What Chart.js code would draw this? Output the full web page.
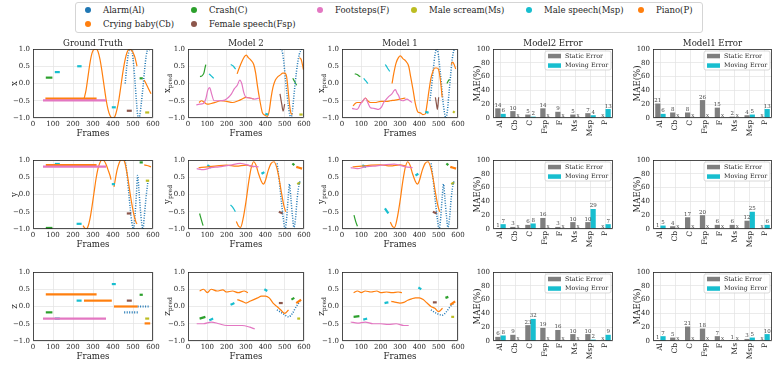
<!DOCTYPE html>
<html>
<head>
<meta charset="utf-8">
<script src="https://cdn.jsdelivr.net/npm/chart.js@4.4.1/dist/chart.umd.min.js"></script>
<style>
  html, body { margin: 0; padding: 0; background: #fff; }
  body { width: 776px; height: 369px; position: relative; overflow: hidden; font-family: "DejaVu Serif", serif; }
  canvas { position: absolute; }
  #legend { position: absolute; left: 75px; top: 2px; width: 628px; height: 31px; border: 1px solid #d5d5d5; border-radius: 3px; box-sizing: border-box; }
  .li { position: absolute; font-size: 8.5px; color: #262626; white-space: nowrap; line-height: 10px; }
  .li i { position: absolute; left: -18px; top: 2px; width: 6px; height: 6px; border-radius: 50%; }
</style>
</head>
<body>
<div id="legend"></div>
<script>
// ---------- data ----------
const CLASS_KEYS = ["Al", "Cb", "C", "Fsp", "F", "Ms", "Msp", "P"];
const CLASS_NAMES = ["Alarm(Al)", "Crying baby(Cb)", "Crash(C)", "Female speech(Fsp)", "Footsteps(F)", "Male scream(Ms)", "Male speech(Msp)", "Piano(P)"];
const CLASS_COLORS = ["#1f77b4", "#ff7f0e", "#2ca02c", "#8c564b", "#e377c2", "#bcbd22", "#17becf", "#ff7f0e"];

// trajectories: [class, [[frame, value], ...]]
const gtX = [
  ["F", [[50, -0.49], [365, -0.49]]],
  ["Cb", [[62, -0.44], [318, -0.44]]],
  ["C", [[64, 0.17], [97, 0.17]]],
  ["C", [[533, 0.15], [549, 0.15]]],
  ["Msp", [[109, 0.33], [134, 0.33]]],
  ["Msp", [[221, 0.5], [243, 0.5]]],
  ["Msp", [[394, -0.69], [414, -0.69]]],
  ["Fsp", [[469, -0.79], [494, -0.79]]],
  ["Ms", [[561, -0.84], [581, -0.84]]],
  ["P", [[255, -0.45], [265, -0.2], [275, 0.2], [285, 0.6], [295, 0.88], [305, 0.99], [315, 1.0], [325, 0.93], [335, 0.7], [345, 0.35], [355, -0.05], [365, -0.45], [375, -0.75], [385, -0.93], [395, -1.0], [402, -1.0], [410, -0.95], [420, -0.75], [430, -0.45], [440, -0.05], [450, 0.35], [460, 0.68], [470, 0.9], [480, 0.99], [490, 0.98], [500, 0.9], [510, 0.75], [520, 0.5]]],
  ["P", [[556, 0.1], [565, 0.0], [575, -0.12], [590, -0.3]]],
  ["Al", [[461, 0.0], [468, 0.45], [475, 0.8], [482, 0.97], [489, 1.0], [496, 0.9], [503, 0.55], [510, 0.05], [517, -0.5], [523, -0.9], [528, -1.0], [534, -0.92], [541, -0.6], [550, -0.1], [558, 0.4], [566, 0.8], [575, 1.0], [583, 0.95]]]
];
const gtY = [
  ["F", [[50, 0.81], [365, 0.81]]],
  ["Cb", [[64, 0.85], [318, 0.85]]],
  ["Msp", [[109, 0.885], [134, 0.885]]],
  ["Msp", [[218, -0.85], [243, -0.85]]],
  ["Msp", [[394, 0.3], [410, 0.3]]],
  ["C", [[64, -0.97], [97, -0.97]]],
  ["C", [[533, 0.93], [549, 0.93]]],
  ["Fsp", [[469, -0.55], [491, -0.55]]],
  ["Ms", [[564, 0.4], [581, 0.4]]],
  ["P", [[250, -0.9], [258, -0.97], [266, -1.0], [275, -0.93], [285, -0.7], [295, -0.35], [305, 0.05], [315, 0.45], [325, 0.75], [335, 0.93], [345, 1.0], [355, 0.98], [365, 0.88], [375, 0.72], [385, 0.55], [390, 0.43]]],
  ["P", [[405, 0.22], [412, 0.45], [420, 0.7], [430, 0.9], [440, 1.0], [450, 1.0], [458, 0.95], [466, 0.75], [475, 0.45], [485, 0.05], [495, -0.3], [505, -0.6], [515, -0.8], [520, -0.85]]],
  ["P", [[556, 0.86], [570, 0.84], [590, 0.8]]],
  ["Al", [[461, 1.0], [470, 0.6], [478, 0.1], [486, -0.4], [494, -0.8], [503, -1.0], [510, -0.6], [517, 0.0], [523, 0.55], [530, 0.1], [537, -0.45], [544, -0.85], [550, -1.0], [557, -0.6], [565, -0.1], [575, 0.4]]]
];
const gtZ = [
  ["F", [[50, -0.35], [365, -0.35]]],
  ["Cb", [[64, 0.35], [318, 0.35]]],
  ["P", [[255, 0.17], [394, 0.17]]],
  ["P", [[405, 0.0], [523, 0.0]]],
  ["P", [[558, -0.49], [586, -0.49]]],
  ["Al", [[523, 0.0], [578, 0.0]]],
  ["Al", [[456, -0.17], [528, -0.17]]],
  ["Msp", [[109, -0.35], [134, -0.35]]],
  ["Msp", [[218, 0.17], [243, 0.17]]],
  ["Msp", [[394, 0.65], [414, 0.65]]],
  ["C", [[64, -0.17], [97, -0.17]]],
  ["C", [[533, 0.34], [549, 0.34]]],
  ["Fsp", [[469, 0.17], [494, 0.17]]],
  ["Ms", [[561, -0.35], [581, -0.35]]]
];

const m2X = [
  ["C", [[62, 0.2], [72, 0.22], [82, 0.3], [88, 0.45], [92, 0.55]]],
  ["Msp", [[109, 0.28], [120, 0.22], [133, 0.15]]],
  ["Msp", [[221, 0.55], [235, 0.5], [246, 0.42]]],
  ["Msp", [[400, -0.88], [415, -0.9]]],
  ["F", [[43, -0.62], [60, -0.6], [80, -0.58], [92, -0.45], [102, -0.2], [112, -0.12], [122, -0.3], [135, -0.5], [160, -0.5], [190, -0.48], [210, -0.4], [225, -0.3], [240, -0.15], [255, -0.05], [268, 0.1], [278, 0.0], [288, -0.25], [300, -0.4], [320, -0.42], [345, -0.45], [370, -0.42]]],
  ["Cb", [[57, -0.55], [70, -0.5], [85, -0.55], [100, -0.6], [120, -0.58], [140, -0.55], [170, -0.5], [200, -0.52], [230, -0.55], [260, -0.5], [280, -0.45], [300, -0.4], [320, -0.42], [340, -0.45]]],
  ["P", [[254, 0.28], [265, 0.45], [280, 0.65], [292, 0.78], [302, 0.82], [312, 0.75], [325, 0.68], [340, 0.55], [350, 0.3], [360, -0.1], [372, -0.5], [385, -0.85], [398, -0.92], [410, -0.95], [420, -0.8], [430, -0.4], [440, -0.1], [452, 0.1], [465, 0.2], [478, 0.25], [490, 0.3], [500, 0.3], [510, 0.2], [518, -0.2], [525, -0.6], [532, -0.85], [540, -0.9]]],
  ["P", [[576, 0.75], [585, 0.7], [592, 0.55], [597, 0.4]]],
  ["Al", [[476, 1.0], [486, 0.95], [494, 0.7], [502, 0.25], [510, -0.2], [518, -0.6], [526, -0.9], [533, -1.0], [540, -0.8], [548, -0.35], [556, 0.1], [566, 0.55], [576, 0.85], [588, 1.0]]],
  ["Fsp", [[476, -0.3], [485, -0.6], [492, -0.8], [500, -0.6]]],
  ["C", [[542, 0.15], [552, 0.05], [562, -0.05]]],
  ["Ms", [[576, -0.9], [593, -0.9]]]
];
const m1X = [
  ["C", [[66, 0.28], [78, 0.26], [88, 0.22], [95, 0.2]]],
  ["Msp", [[112, 0.15], [122, 0.08], [134, 0.0]]],
  ["Msp", [[224, 0.55], [235, 0.45], [247, 0.35]]],
  ["Msp", [[431, -0.82], [448, -0.85]]],
  ["F", [[52, -0.72], [65, -0.74], [78, -0.75], [95, -0.6], [108, -0.5], [121, -0.42], [133, -0.55], [147, -0.7], [165, -0.72], [190, -0.75], [205, -0.68], [216, -0.55], [230, -0.45], [241, -0.38], [258, -0.3], [270, -0.2], [276, -0.18], [285, -0.28], [293, -0.35], [302, -0.48], [315, -0.5], [336, -0.45], [350, -0.5], [362, -0.55]]],
  ["Cb", [[57, -0.65], [68, -0.58], [78, -0.55], [100, -0.55], [121, -0.42], [133, -0.5], [147, -0.55], [170, -0.55], [200, -0.52], [230, -0.52], [250, -0.5], [275, -0.48], [302, -0.45], [328, -0.42]]],
  ["P", [[259, 0.0], [268, 0.3], [280, 0.6], [292, 0.75], [302, 0.8], [315, 0.72], [330, 0.65], [345, 0.5], [355, 0.2], [368, -0.2], [380, -0.6], [392, -0.82], [405, -0.85], [418, -0.9], [431, -0.88], [440, -0.6], [450, -0.2], [460, 0.15], [470, 0.35], [480, 0.45], [490, 0.45], [500, 0.4], [510, 0.05], [518, -0.4]]],
  ["P", [[565, 0.55], [572, 0.62], [580, 0.55], [588, 0.42]]],
  ["Al", [[455, -0.5], [463, -0.1], [472, 0.4], [480, 0.8], [490, 1.0], [498, 0.85], [506, 0.45], [514, 0.0], [522, -0.5], [530, -0.85], [537, -1.0], [545, -0.8], [553, -0.3], [562, 0.25], [570, 0.7], [578, 0.95], [586, 1.0]]],
  ["Fsp", [[483, -0.4], [490, -0.65], [493, -0.75], [496, -0.65], [500, -0.4]]],
  ["C", [[543, 0.0], [550, 0.08], [557, 0.12]]],
  ["Ms", [[575, -0.85], [582, -0.8]]]
];

const m2Y = [
  ["F", [[45, 0.75], [80, 0.72], [120, 0.78], [160, 0.8], [220, 0.85], [270, 0.9], [330, 0.82], [365, 0.8]]],
  ["Cb", [[55, 0.78], [100, 0.8], [150, 0.83], [200, 0.85], [250, 0.82], [300, 0.85], [340, 0.8]]],
  ["C", [[60, -0.55], [70, -0.75], [78, -0.9]]],
  ["Msp", [[100, 0.85], [120, 0.78]]],
  ["Msp", [[220, -0.3], [235, -0.4], [245, -0.5]]],
  ["Msp", [[380, 0.6], [395, 0.65]]],
  ["P", [[250, -0.78], [262, -0.92], [272, -0.95], [285, -0.7], [300, -0.2], [315, 0.4], [328, 0.8], [340, 0.95], [352, 0.85], [365, 0.6], [378, 0.4], [390, 0.3], [400, 0.4], [415, 0.7], [430, 0.9], [445, 0.95], [458, 0.8], [470, 0.5], [482, 0.1], [495, -0.3], [505, -0.5]]],
  ["P", [[560, 0.8], [590, 0.75]]],
  ["Al", [[461, 0.9], [472, 0.4], [483, -0.2], [493, -0.7], [502, -1.0], [510, -0.7], [518, -0.1], [525, 0.3], [532, -0.1], [540, -0.6], [548, -0.95], [556, -0.7], [565, -0.1], [575, 0.3], [582, 0.4]]],
  ["Fsp", [[470, -0.5], [490, -0.55]]],
  ["C", [[540, 0.9], [550, 0.85]]],
  ["Ms", [[565, 0.3], [580, 0.35]]]
];
const m1Y = [
  ["F", [[45, 0.78], [80, 0.75], [120, 0.8], [160, 0.82], [220, 0.86], [270, 0.88], [330, 0.8], [365, 0.78]]],
  ["Cb", [[55, 0.8], [100, 0.82], [150, 0.85], [200, 0.86], [250, 0.83], [300, 0.86], [330, 0.82]]],
  ["C", [[62, -0.6], [72, -0.8], [80, -0.92]]],
  ["Msp", [[105, 0.85], [125, 0.8]]],
  ["Msp", [[222, -0.4], [240, -0.55]]],
  ["Msp", [[380, 0.55], [395, 0.6]]],
  ["P", [[250, -0.8], [262, -0.93], [272, -0.95], [285, -0.7], [300, -0.2], [315, 0.4], [328, 0.8], [340, 0.95], [352, 0.85], [365, 0.6], [378, 0.4], [390, 0.3], [400, 0.4], [415, 0.7], [430, 0.9], [445, 0.95], [458, 0.8], [470, 0.5], [482, 0.1], [495, -0.3], [505, -0.5]]],
  ["P", [[560, 0.8], [590, 0.75]]],
  ["Al", [[461, 0.9], [472, 0.4], [483, -0.2], [493, -0.7], [502, -1.0], [510, -0.7], [518, -0.1], [525, 0.3], [532, -0.1], [540, -0.6], [548, -0.95], [556, -0.7], [565, -0.1], [575, 0.3], [582, 0.4]]],
  ["Fsp", [[470, -0.5], [490, -0.55]]],
  ["C", [[540, 0.9], [550, 0.85]]],
  ["Ms", [[565, 0.3], [580, 0.35]]]
];

const m2Z = [
  ["F", [[45, -0.5], [80, -0.5], [120, -0.45], [160, -0.5], [200, -0.55], [240, -0.55], [280, -0.55], [320, -0.6], [345, -0.65]]],
  ["Cb", [[60, 0.45], [80, 0.5], [100, 0.4], [120, 0.5], [150, 0.45], [180, 0.48], [200, 0.42], [230, 0.45], [260, 0.4], [290, 0.45], [310, 0.4]]],
  ["C", [[60, -0.35], [90, -0.3]]],
  ["Msp", [[110, -0.4], [130, -0.35]]],
  ["Msp", [[220, 0.05], [240, 0.1]]],
  ["Msp", [[395, 0.5], [410, 0.45]]],
  ["P", [[255, 0.2], [280, 0.15], [300, 0.1], [320, 0.15], [340, 0.2], [360, 0.25], [380, 0.3], [400, 0.3], [420, 0.25], [440, 0.1], [460, 0.0], [480, -0.1], [500, -0.2], [520, -0.1]]],
  ["P", [[560, 0.1], [585, 0.2]]],
  ["Al", [[460, -0.1], [490, -0.2], [520, -0.3], [540, -0.2], [560, 0.0], [580, 0.15]]],
  ["Fsp", [[470, 0.1], [490, 0.1]]],
  ["C", [[535, 0.2], [550, 0.25]]],
  ["Ms", [[565, -0.35], [580, -0.35]]]
];
const m1Z = [
  ["F", [[45, -0.45], [80, -0.48], [120, -0.45], [160, -0.5], [200, -0.5], [240, -0.52], [280, -0.5], [320, -0.55], [345, -0.55]]],
  ["Cb", [[60, 0.4], [80, 0.45], [100, 0.4], [120, 0.45], [150, 0.42], [180, 0.45], [200, 0.4], [230, 0.42], [260, 0.4], [290, 0.42], [310, 0.4]]],
  ["C", [[60, -0.3], [90, -0.28]]],
  ["Msp", [[110, -0.38], [130, -0.35]]],
  ["Msp", [[220, 0.1], [240, 0.12]]],
  ["Msp", [[395, 0.55], [410, 0.5]]],
  ["P", [[255, 0.15], [280, 0.12], [300, 0.1], [320, 0.12], [340, 0.18], [360, 0.22], [380, 0.25], [400, 0.25], [420, 0.2], [440, 0.1], [460, 0.0], [480, -0.05], [500, -0.15], [520, -0.05]]],
  ["P", [[560, 0.05], [585, 0.15]]],
  ["Al", [[460, -0.1], [490, -0.2], [520, -0.25], [540, -0.15], [560, 0.0], [580, 0.1]]],
  ["Fsp", [[470, 0.12], [490, 0.12]]],
  ["C", [[535, 0.25], [550, 0.28]]],
  ["Ms", [[565, -0.3], [580, -0.3]]]
];

// MAE (%) per class; null means "x" (not available)
const BAR_CATS = ["Al", "Cb", "C", "Fsp", "F", "Ms", "Msp", "P"];
const m2StaticX = [14, 10, 5, 14, 9, 5, 7, null];
const m2MovingX = [6, null, 2, null, null, null, 4, 13];
const m1StaticX = [21, 8, 8, 26, 15, 2, 4, null];
const m1MovingX = [6, null, null, null, null, null, 5, 13];
const m2StaticY = [1, 3, 6, 16, 3, 10, 10, null];
const m2MovingY = [7, null, 8, null, null, null, 29, 7];
const m1StaticY = [1, 4, 17, 20, 6, 6, 12, null];
const m1MovingY = [5, null, null, null, null, null, 25, 6];
const m2StaticZ = [6, 9, 23, 19, 16, 10, 10, null];
const m2MovingZ = [8, null, 32, null, null, null, 2, 9];
const m1StaticZ = [1, 5, 21, 18, 7, 1, 3, null];
const m1MovingZ = [7, null, null, null, null, null, 5, 10];

// ---------- layout ----------
const COL_L = [33, 188, 342, 493, 653];
const COL_W = [120, 116, 116, 120, 119];
const ROW_T = [49, 160, 272];
const PLOT_H = 69;
const PAD_L = 34, PAD_R = 10, PAD_T = 14, PAD_B = 21, PAD_B_BAR = 26;
const INK = "#262626";

Chart.defaults.font.family = '"DejaVu Serif", serif';
Chart.defaults.font.size = 7;
Chart.defaults.color = INK;

const colorOf = (k) => CLASS_COLORS[CLASS_KEYS.indexOf(k)];
const fmtTick = (v) => Number(v).toFixed(1).replace("-", "\u2212");

// --- legend (html) ---
const LEG_DOT_X = [88, 88, 194, 194, 320, 414, 529, 641];
const LEG_ROW_Y = [10, 24, 10, 24, 10, 10, 10, 10];
(function buildLegend() {
  CLASS_NAMES.forEach((name, i) => {
    const d = document.createElement("div");
    d.className = "li";
    d.style.left = (LEG_DOT_X[i] + 15) + "px";
    d.style.top = (LEG_ROW_Y[i] - 5) + "px";
    d.innerHTML = '<i style="background:' + CLASS_COLORS[i] + '"></i>' + name;
    document.body.appendChild(d);
  });
})();

// --- plugin: box, title, y label ---
const deco = {
  id: "deco",
  afterDraw(chart, args, o) {
    const { ctx, chartArea: a } = chart;
    ctx.save();
    ctx.strokeStyle = INK;
    ctx.lineWidth = 0.8;
    ctx.strokeRect(a.left + 0.5, a.top + 0.5, a.right - a.left - 1, a.bottom - a.top - 1);
    ctx.fillStyle = INK;
    if (o.title) {
      ctx.font = '8.6px "DejaVu Serif"';
      ctx.textAlign = "center";
      ctx.textBaseline = "alphabetic";
      ctx.fillText(o.title, (a.left + a.right) / 2, a.top - 3);
    }
    if (o.yl) {
      ctx.translate(a.left - o.yOff, (a.top + a.bottom) / 2);
      ctx.rotate(-Math.PI / 2);
      ctx.textBaseline = "middle";
      ctx.textAlign = "left";
      ctx.font = '8.6px "DejaVu Serif"';
      const w1 = ctx.measureText(o.yl).width;
      let w2 = 0;
      if (o.sub) {
        ctx.font = '6px "DejaVu Serif"';
        w2 = ctx.measureText(o.sub).width;
      }
      const x0 = -(w1 + w2) / 2;
      ctx.font = '8.6px "DejaVu Serif"';
      ctx.fillText(o.yl, x0, 0);
      if (o.sub) {
        ctx.font = '6px "DejaVu Serif"';
        ctx.fillText(o.sub, x0 + w1, 2.5);
      }
    }
    ctx.restore();
  }
};

// --- plugin: bar value labels + inner legend ---
const barText = {
  id: "barText",
  afterDatasetsDraw(chart) {
    const { ctx, chartArea: a } = chart;
    const y0 = chart.scales.y.getPixelForValue(0);
    ctx.save();
    ctx.font = '5.5px "DejaVu Serif"';
    ctx.fillStyle = "#444";
    ctx.textAlign = "center";
    ctx.textBaseline = "alphabetic";
    chart.data.datasets.forEach((ds, di) => {
      const meta = chart.getDatasetMeta(di);
      meta.data.forEach((el, i) => {
        const v = ds.data[i];
        const yy = v === null ? y0 - 1 : el.y - 1.5;
        ctx.fillText(v === null ? "x" : String(v), el.x, yy);
      });
    });
    // legend box
    const bw = 66, bh = 19;
    const bx = a.right - bw - 2, by = a.top + 2;
    ctx.fillStyle = "rgba(255,255,255,0.85)";
    ctx.strokeStyle = "#d0d0d0";
    ctx.lineWidth = 0.8;
    ctx.beginPath();
    ctx.roundRect(bx, by, bw, bh, 2);
    ctx.fill();
    ctx.stroke();
    ctx.font = '6.3px "DejaVu Serif"';
    ctx.textAlign = "left";
    ctx.textBaseline = "middle";
    chart.data.datasets.forEach((ds, di) => {
      const cy = by + 5 + di * 9.5;
      ctx.fillStyle = ds.backgroundColor;
      ctx.fillRect(bx + 3, cy - 2.2, 13, 4.5);
      ctx.fillStyle = INK;
      ctx.fillText(ds.label, bx + 20, cy + 0.3);
    });
    ctx.restore();
  }
};

function addCanvas(col, row, padB) {
  const w = COL_W[col] + PAD_L + PAD_R;
  const h = PLOT_H + PAD_T + padB;
  const c = document.createElement("canvas");
  c.width = w; c.height = h;
  c.style.width = w + "px"; c.style.height = h + "px";
  c.style.left = (COL_L[col] - PAD_L) + "px";
  c.style.top = (ROW_T[row] - PAD_T) + "px";
  document.body.appendChild(c);
  return c;
}

function linePanel(col, row, series, title, yl, sub) {
  const datasets = series.map(([k, pts]) => ({
    data: pts.map(([x, y]) => ({ x, y })),
    showLine: true,
    pointRadius: 0,
    borderColor: colorOf(k),
    borderWidth: pts.length === 2 ? 2.2 : (k === "Al" ? 1.5 : 1.2),
    borderDash: k === "Al" ? [1, 1.5] : [],
    cubicInterpolationMode: "monotone",
    fill: false
  }));
  new Chart(addCanvas(col, row, PAD_B), {
    type: "scatter",
    data: { datasets },
    options: {
      responsive: false, animation: false, devicePixelRatio: 1,
      layout: { padding: { left: 0, right: PAD_R, top: PAD_T, bottom: 0 } },
      plugins: { legend: { display: false }, tooltip: { enabled: false },
        deco: { title, yl, sub, yOff: sub ? 20 : 18 } },
      scales: {
        x: {
          type: "linear", min: 0, max: 600,
          ticks: { stepSize: 100, padding: 2, maxRotation: 0, autoSkip: false },
          grid: { color: "#e3e3e3", lineWidth: 0.7, drawTicks: false },
          border: { display: false },
          title: { display: true, text: "Frames", font: { size: 8.6 }, padding: 0 },
          afterFit: (s) => { s.height = PAD_B; }
        },
        y: {
          min: -1, max: 1,
          ticks: { stepSize: 0.5, padding: 3, callback: fmtTick },
          grid: { color: "#e3e3e3", lineWidth: 0.7, drawTicks: false },
          border: { display: false },
          afterFit: (s) => { s.width = PAD_L; }
        }
      }
    },
    plugins: [deco]
  });
}

function barPanel(col, row, stat, mov, title) {
  new Chart(addCanvas(col, row, PAD_B_BAR), {
    type: "bar",
    data: {
      labels: BAR_CATS,
      datasets: [
        { label: "Static Error", data: stat, backgroundColor: "#7f7f7f", categoryPercentage: 0.7, barPercentage: 1.0 },
        { label: "Moving Error", data: mov, backgroundColor: "#17becf", categoryPercentage: 0.7, barPercentage: 1.0 }
      ]
    },
    options: {
      responsive: false, animation: false, devicePixelRatio: 1,
      layout: { padding: { left: 0, right: PAD_R, top: PAD_T, bottom: 0 } },
      plugins: { legend: { display: false }, tooltip: { enabled: false },
        deco: { title, yl: "MAE(%)", yOff: 15 } },
      scales: {
        x: {
          ticks: { font: { size: 7.5 }, padding: 2, minRotation: 90, maxRotation: 90, autoSkip: false },
          grid: { color: "#e3e3e3", lineWidth: 0.7, drawTicks: false, offset: false },
          border: { display: false },
          afterFit: (s) => { s.height = PAD_B_BAR; }
        },
        y: {
          min: 0, max: 100,
          ticks: { stepSize: 20, padding: 3 },
          grid: { color: "#e3e3e3", lineWidth: 0.7, drawTicks: false },
          border: { display: false },
          afterFit: (s) => { s.width = PAD_L; }
        }
      }
    },
    plugins: [deco, barText]
  });
}

linePanel(0, 0, gtX, "Ground Truth", "x");
linePanel(1, 0, m2X, "Model 2", "x", "pred");
linePanel(2, 0, m1X, "Model 1", "x", "pred");
barPanel(3, 0, m2StaticX, m2MovingX, "Model2 Error");
barPanel(4, 0, m1StaticX, m1MovingX, "Model1 Error");

linePanel(0, 1, gtY, "", "y");
linePanel(1, 1, m2Y, "", "y", "pred");
linePanel(2, 1, m1Y, "", "y", "pred");
barPanel(3, 1, m2StaticY, m2MovingY, "");
barPanel(4, 1, m1StaticY, m1MovingY, "");

linePanel(0, 2, gtZ, "", "z");
linePanel(1, 2, m2Z, "", "z", "pred");
linePanel(2, 2, m1Z, "", "z", "pred");
barPanel(3, 2, m2StaticZ, m2MovingZ, "");
barPanel(4, 2, m1StaticZ, m1MovingZ, "");
</script>
</body>
</html>
